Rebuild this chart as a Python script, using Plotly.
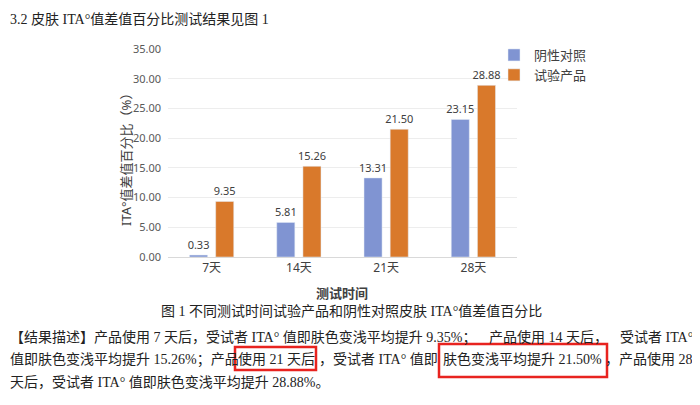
import plotly.graph_objects as go

# ---- data ----
categories = ["7天", "14天", "21天", "28天"]
control_vals = [0.33, 5.81, 13.31, 23.15]      # 阴性对照
product_vals = [9.35, 15.26, 21.50, 28.88]     # 试验产品
series_names = ["阴性对照", "试验产品"]
y_ticks = [0, 5, 10, 15, 20, 25, 30, 35]

heading = "3.2 皮肤 ITA°值差值百分比测试结果见图 1"
caption = "图 1 不同测试时间试验产品和阴性对照皮肤 ITA°值差值百分比"
para1a = "【结果描述】产品使用 7 天后，受试者 ITA° 值即肤色变浅平均提升 9.35%；"
para1b = "产品使用 14 天后，"
para1c = "受试者 ITA°"
para2a = "值即肤色变浅平均提升 15.26%；产品"
para2b = "使用 21 天后"
para2c = "，受试者 ITA° 值即"
para2d = "肤色变浅平均提升 21.50%"
para2e = "，产品使用 28"
para3 = "天后，受试者 ITA° 值即肤色变浅平均提升 28.88%。"

# ---- layout geometry (page pixels; page body has an 8px offset) ----
OFF = 8
W, H = 700 - OFF, 405 - OFF
L, R, T, B = 168 - OFF, 517 - OFF, 49 - OFF, 257 - OFF
PW, PH = R - L, B - T

def px(x):
    return (x - OFF - L) / PW

def py(y):
    return (B - (y - OFF)) / PH

CHART_FONT = "Noto Sans, Noto Sans CJK SC, sans-serif"
DOC_FONT = "Liberation Serif, Noto Sans CJK SC, serif"
BLUE = "#8094d2"
ORANGE = "#d9792b"
DOC_SIZE = 14

fig = go.Figure()
for name, vals, col in [(series_names[0], control_vals, BLUE),
                        (series_names[1], product_vals, ORANGE)]:
    fig.add_trace(go.Bar(
        x=categories, y=vals, name=name,
        marker=dict(color=col),
        text=[f"{v:.2f}" for v in vals], textposition="outside",
        constraintext="none",
        textfont=dict(size=11, color="#404040", family=CHART_FONT),
        cliponaxis=False,
    ))

def ann(text, x, y, xa="center", size=DOC_SIZE, family=DOC_FONT, color="#222222", **kw):
    d = dict(text=text, x=px(x), y=py(y), xanchor=xa, yanchor="middle",
             xref="paper", yref="paper", showarrow=False,
             font=dict(size=size, color=color, family=family))
    d.update(kw)
    return d

annotations = [
    ann("ITA°值差值百分比（%）", 126, 157, size=13, family=CHART_FONT,
        color="#404040", textangle=-90),
    ann("<b>测试时间</b>", 342, 293, size=13, family=CHART_FONT, color="#404040"),
    ann(heading, 8, 19, xa="left"),
    ann(caption, 351, 311),
    ann(para1a, 8, 337, xa="left"),
    ann(para1b, 487, 337, xa="left"),
    ann(para1c, 695, 337, xa="right"),
    ann(para2a, 8, 359, xa="left"),
    ann(para2b, 276, 359),
    ann(para2c, 378, 359),
    ann(para2d, 522, 359),
    ann(para2e, 695, 359, xa="right"),
    ann(para3, 8, 382, xa="left"),
]

shapes = [
    dict(type="rect", xref="paper", yref="paper",
         x0=px(235), x1=px(316), y0=py(347), y1=py(370),
         line=dict(color="#e8231f", width=2.5)),
    dict(type="rect", xref="paper", yref="paper",
         x0=px(439), x1=px(607), y0=py(344), y1=py(377),
         line=dict(color="#e8231f", width=2.5)),
]

fig.update_layout(
    width=W, height=H,
    margin=dict(l=L, r=W - R, t=T, b=H - B, pad=0, autoexpand=False),
    paper_bgcolor="white", plot_bgcolor="white",
    barmode="group", bargap=0.40, bargroupgap=0.31,
    showlegend=True,
    legend=dict(x=px(494), y=py(40), xanchor="left", yanchor="top",
                font=dict(size=13, color="#404040", family=CHART_FONT),
                itemwidth=30, tracegroupgap=0, bgcolor="rgba(0,0,0,0)"),
    annotations=annotations,
    shapes=shapes,
    font=dict(family=CHART_FONT),
)
fig.update_xaxes(
    showgrid=False, showline=True, linecolor="#d9d9d9", linewidth=1,
    ticks="", tickfont=dict(size=12, color="#404040", family=CHART_FONT),
)
fig.update_yaxes(
    range=[0, 35], tickvals=y_ticks, tickformat=".2f",
    showgrid=True, gridcolor="#ededed", gridwidth=1,
    zeroline=False, showline=False, ticks="", ticklabelstandoff=6,
    tickfont=dict(size=11, color="#595959", family=CHART_FONT),
)

fig.write_html("out.html")
